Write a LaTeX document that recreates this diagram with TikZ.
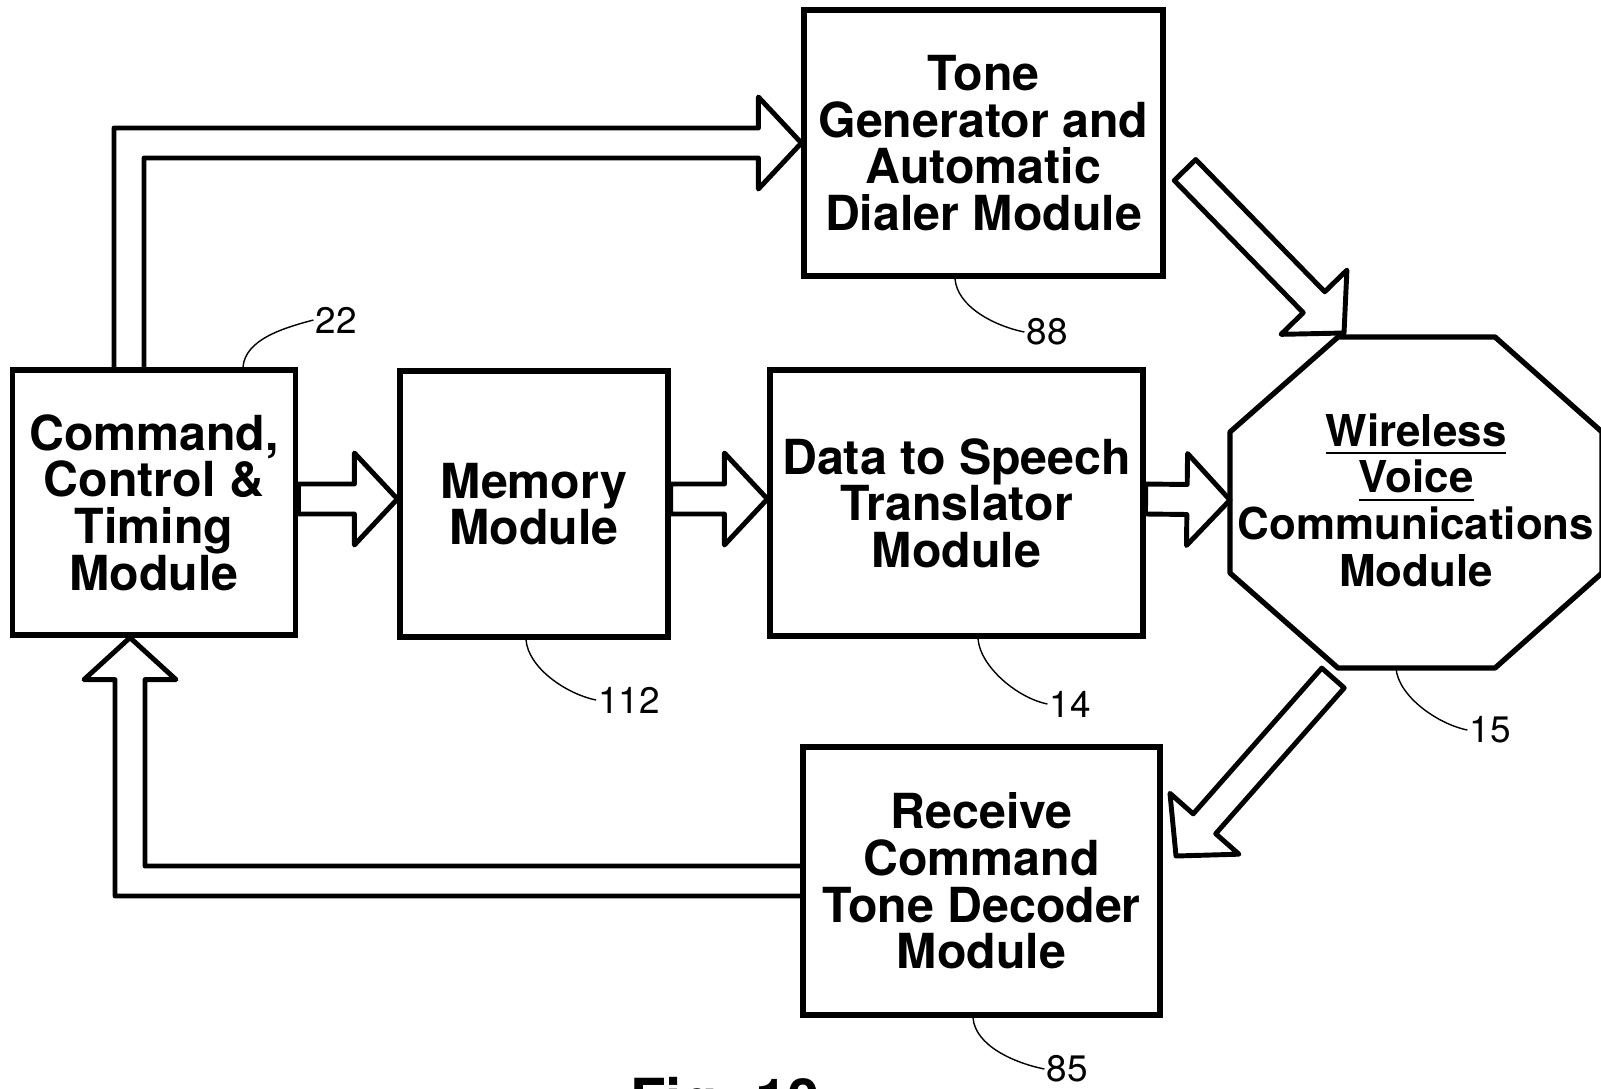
\documentclass[tikz,border=0pt]{standalone}
\usepackage{fontspec}
\setmainfont{TeX Gyre Heros}
\usetikzlibrary{calc}

\newcommand{\ulword}[1]{\setbox0\hbox{#1}\rlap{\rule[-4.5pt]{\wd0}{1.1pt}}\box0}

\tikzset{
  module/.style={draw, line width=3pt, align=center, inner sep=0pt,
    font=\bfseries\fontsize{27.5}{26.5}\selectfont},
  fatline/.style={line width=2.8pt, line join=round},
  lead/.style={line width=0.8pt},
  refnum/.style={font=\fontsize{21}{21}\selectfont, inner sep=1pt}
}

% hollow arrow from #1 to its tip #2
\newcommand{\fatarrow}[2]{%
  \coordinate (fa-b) at ($(#2)!0.86cm!(#1)$);
  \draw[fatline] ($(#1)!0.3cm!-90:(#2)$) -- ($(fa-b)!0.3cm!-90:(#2)$)
    -- ($(fa-b)!0.92cm!-90:(#2)$) -- (#2) -- ($(fa-b)!0.92cm!90:(#2)$)
    -- ($(fa-b)!0.3cm!90:(#2)$) -- ($(#1)!0.3cm!90:(#2)$) -- cycle;
}

\begin{document}
\begin{tikzpicture}[x=0.02cm, y=-0.02cm]
\useasboundingbox (0,0) rectangle (1601,1088);

\node[module, minimum width=5.67cm, minimum height=5.3cm] (cmd) at (154,502.5) {Command,\\Control \&\\Timing\\Module};
\node[module, minimum width=5.36cm, minimum height=5.32cm] (mem) at (534,504) {Memory\\Module};
\node[module, minimum width=7.46cm, minimum height=5.32cm] (data) at (956.5,503) {Data to Speech\\Translator\\Module};
\node[module, minimum width=7.18cm, minimum height=5.32cm] (tone) at (983.5,143) {Tone\\Generator and\\Automatic\\Dialer Module};
\node[module, minimum width=7.14cm, minimum height=5.36cm] (recv) at (981.5,881) {Receive\\Command\\Tone Decoder\\Module};

% octagon
\draw[line width=3pt, line join=round] (1338,337) -- (1495,337) -- (1602,432) -- (1602,573)
  -- (1495,668) -- (1338,668) -- (1230,573) -- (1230,432) -- cycle;
\coordinate (wvc-w) at (1230,500);
\coordinate (wvc-s) at (1396,668);
\node[align=center, inner sep=0pt, font=\bfseries\fontsize{25}{26.5}\selectfont] (wvc) at (1416,500)
  {\ulword{Wireless}\\\ulword{Voice}\\Communications\\Module};

\coordinate (row) at (0,499);
\fatarrow{cmd.east |- row}{mem.west |- row}
\fatarrow{mem.east |- row}{data.west |- row}
\fatarrow{data.east |- row}{wvc-w}

\coordinate (ts) at (1185,170);
\coordinate (te) at (1344,333);
\fatarrow{ts}{te}
\coordinate (rs) at (1333,678);
\coordinate (re) at (1176,856);
\fatarrow{rs}{re}

% command to tone generator
\coordinate (ua) at ([xshift=-0.5cm]cmd.north);
\coordinate (ub) at (ua |- tone.west);
\draw[fatline] ([xshift=-0.3cm]ua) -- ([xshift=-0.3cm,yshift=0.3cm]ub)
  -- ([xshift=-0.86cm,yshift=0.3cm]tone.west) -- ([xshift=-0.86cm,yshift=0.92cm]tone.west)
  -- (tone.west) -- ([xshift=-0.86cm,yshift=-0.92cm]tone.west)
  -- ([xshift=-0.86cm,yshift=-0.3cm]tone.west) -- ([xshift=0.3cm,yshift=-0.3cm]ub)
  -- ([xshift=0.3cm]ua);

% decoder back to command
\coordinate (da) at ([xshift=-0.48cm]cmd.south);
\coordinate (db) at (da |- recv.west);
\draw[fatline] ([yshift=0.3cm]recv.west) -- ([xshift=0.3cm,yshift=0.3cm]db)
  -- ([xshift=0.3cm,yshift=-0.84cm]da) -- ([xshift=0.92cm,yshift=-0.84cm]da)
  -- (da) -- ([xshift=-0.92cm,yshift=-0.84cm]da)
  -- ([xshift=-0.3cm,yshift=-0.84cm]da) -- ([xshift=-0.3cm,yshift=-0.3cm]db)
  -- ([yshift=-0.3cm]recv.west);

\node[refnum] (n22) at (336,320) {22};
\node[refnum] (n88) at (1047,332) {88};
\node[refnum] (n112) at (629,700) {112};
\node[refnum] (n14) at (1070,704) {14};
\node[refnum] (n15) at (1490,730) {15};
\node[refnum] (n85) at (1067,1069) {85};
\draw[lead] ([xshift=1.78cm]cmd.north) .. controls +(2,-28) and +(-30,8) .. (n22.west);
\draw[lead] ([xshift=-0.57cm]tone.south) .. controls +(2,28) and +(-30,-6) .. (n88.west);
\draw[lead] ([xshift=-0.16cm]mem.south) .. controls +(2,28) and +(-30,-6) .. (n112.west);
\draw[lead] ([xshift=0.43cm]data.south) .. controls +(2,28) and +(-30,-6) .. (n14.west);
\draw[lead] (wvc-s) .. controls +(2,28) and +(-30,-6) .. (n15.west);
\draw[lead] ([xshift=-0.17cm]recv.south) .. controls +(2,28) and +(-30,-6) .. (n85.west);

\node[anchor=base, font=\bfseries\fontsize{33}{33}\selectfont] (fig) at (725,1120) {Fig. 10};
\end{tikzpicture}
\end{document}
